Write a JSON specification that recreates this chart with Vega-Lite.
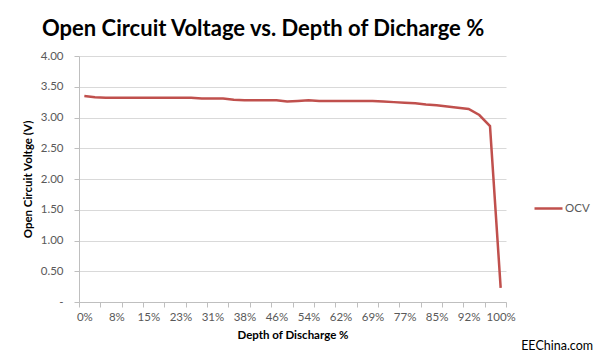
{
  "$schema": "https://vega.github.io/schema/vega-lite/v6.json",
  "autosize": "none",
  "width": 427,
  "height": 246,
  "padding": {"left": 79, "top": 56, "right": 94, "bottom": 58},
  "background": "white",
  "config": {
    "view": {"stroke": null},
    "font": "Lato",
    "axis": {
      "labelFont": "Lato",
      "labelFontSize": 11.5,
      "labelColor": "#595959",
      "titleFont": "Lato",
      "titleFontSize": 11.5,
      "titleFontWeight": "bold",
      "titleColor": "#000000",
      "domainColor": "#bfbfbf",
      "tickColor": "#bfbfbf",
      "gridColor": "#d9d9d9",
      "tickSize": 5,
      "labelOverlap": false
    }
  },
  "title": {
    "text": "Open Circuit Voltage vs. Depth of Dicharge %",
    "anchor": "start",
    "frame": "group",
    "dx": -37,
    "offset": 9,
    "font": "Lato",
    "fontSize": 22,
    "fontWeight": "bold",
    "color": "#000000"
  },
  "resolve": {"axis": {"x": "independent", "y": "independent"}},
  "layer": [
    {
      "data": {
        "values": [
          {"dod": 0, "ocv": 3.35, "series": "OCV"},
          {"dod": 2.56, "ocv": 3.33, "series": "OCV"},
          {"dod": 5.13, "ocv": 3.32, "series": "OCV"},
          {"dod": 7.69, "ocv": 3.32, "series": "OCV"},
          {"dod": 10.26, "ocv": 3.32, "series": "OCV"},
          {"dod": 12.82, "ocv": 3.32, "series": "OCV"},
          {"dod": 15.38, "ocv": 3.32, "series": "OCV"},
          {"dod": 17.95, "ocv": 3.32, "series": "OCV"},
          {"dod": 20.51, "ocv": 3.32, "series": "OCV"},
          {"dod": 23.08, "ocv": 3.32, "series": "OCV"},
          {"dod": 25.64, "ocv": 3.32, "series": "OCV"},
          {"dod": 28.21, "ocv": 3.31, "series": "OCV"},
          {"dod": 30.77, "ocv": 3.31, "series": "OCV"},
          {"dod": 33.33, "ocv": 3.31, "series": "OCV"},
          {"dod": 35.9, "ocv": 3.29, "series": "OCV"},
          {"dod": 38.46, "ocv": 3.28, "series": "OCV"},
          {"dod": 41.03, "ocv": 3.28, "series": "OCV"},
          {"dod": 43.59, "ocv": 3.28, "series": "OCV"},
          {"dod": 46.15, "ocv": 3.28, "series": "OCV"},
          {"dod": 48.72, "ocv": 3.26, "series": "OCV"},
          {"dod": 51.28, "ocv": 3.27, "series": "OCV"},
          {"dod": 53.85, "ocv": 3.28, "series": "OCV"},
          {"dod": 56.41, "ocv": 3.27, "series": "OCV"},
          {"dod": 58.97, "ocv": 3.27, "series": "OCV"},
          {"dod": 61.54, "ocv": 3.27, "series": "OCV"},
          {"dod": 64.1, "ocv": 3.27, "series": "OCV"},
          {"dod": 66.67, "ocv": 3.27, "series": "OCV"},
          {"dod": 69.23, "ocv": 3.27, "series": "OCV"},
          {"dod": 71.79, "ocv": 3.26, "series": "OCV"},
          {"dod": 74.36, "ocv": 3.25, "series": "OCV"},
          {"dod": 76.92, "ocv": 3.24, "series": "OCV"},
          {"dod": 79.49, "ocv": 3.23, "series": "OCV"},
          {"dod": 82.05, "ocv": 3.21, "series": "OCV"},
          {"dod": 84.62, "ocv": 3.2, "series": "OCV"},
          {"dod": 87.18, "ocv": 3.18, "series": "OCV"},
          {"dod": 89.74, "ocv": 3.16, "series": "OCV"},
          {"dod": 92.31, "ocv": 3.14, "series": "OCV"},
          {"dod": 94.87, "ocv": 3.04, "series": "OCV"},
          {"dod": 97.44, "ocv": 2.86, "series": "OCV"},
          {"dod": 100, "ocv": 0.23, "series": "OCV"}
        ]
      },
      "mark": {"type": "line", "strokeWidth": 2.5},
      "encoding": {
        "x": {
          "field": "dod",
          "type": "quantitative",
          "scale": {"domain": [-1.282, 101.282], "nice": false, "zero": false},
          "axis": {
            "title": "Depth of Discharge %",
            "grid": false,
            "values": [-1.28, 0, 3.85, 7.69, 8.97, 14.1, 15.38, 19.23, 23.08, 24.36, 29.49, 30.77, 34.62, 38.46, 39.74, 44.87, 46.15, 50, 53.85, 55.13, 60.26, 61.54, 65.38, 69.23, 70.51, 75.64, 76.92, 80.77, 84.62, 85.9, 91.03, 92.31, 96.15, 100, 101.28],
            "labelExpr": "abs(datum.value*0.39 - round(datum.value*0.39)) < 0.1 ? format(datum.value, '.0f') + '%' : ''",
            "tickOpacity": {"condition": {"test": "abs(datum.value*0.39 - round(datum.value*0.39)) < 0.1", "value": 0}, "value": 1},
            "labelOverlap": false,
            "labelBound": false,
            "labelFlush": false,
            "labelPadding": 4,
            "titlePadding": 7
          }
        },
        "y": {
          "field": "ocv",
          "type": "quantitative",
          "scale": {"domain": [0, 4], "nice": false},
          "axis": {
            "title": "Open Circuit Voltge (V)",
            "values": [0, 0.5, 1, 1.5, 2, 2.5, 3, 3.5, 4],
            "labelExpr": "datum.value == 0 ? '-' : format(datum.value, '.2f')",
            "grid": true,
            "labelOverlap": false,
            "labelPadding": 11,
            "titlePadding": 7
          }
        },
        "color": {
          "field": "series",
          "type": "nominal",
          "scale": {"range": ["#c0504d"]},
          "legend": {
            "title": null,
            "orient": "none",
            "legendX": 454,
            "legendY": 137,
            "symbolType": "stroke",
            "symbolSize": 784,
            "symbolStrokeWidth": 2.5,
            "labelFont": "Lato",
            "labelFontSize": 11.5,
            "labelColor": "#595959",
            "labelOffset": 1
          }
        }
      }
    },
    {
      "data": {"values": [{"label": "EEChina.com"}]},
      "mark": {"type": "text", "align": "right", "baseline": "middle", "font": "Lato", "fontSize": 12.5, "color": "#000000"},
      "encoding": {
        "x": {"datum": 122.2, "type": "quantitative", "axis": null},
        "y": {"datum": -0.715, "type": "quantitative", "axis": null},
        "text": {"field": "label", "type": "nominal"}
      }
    }
  ]
}
